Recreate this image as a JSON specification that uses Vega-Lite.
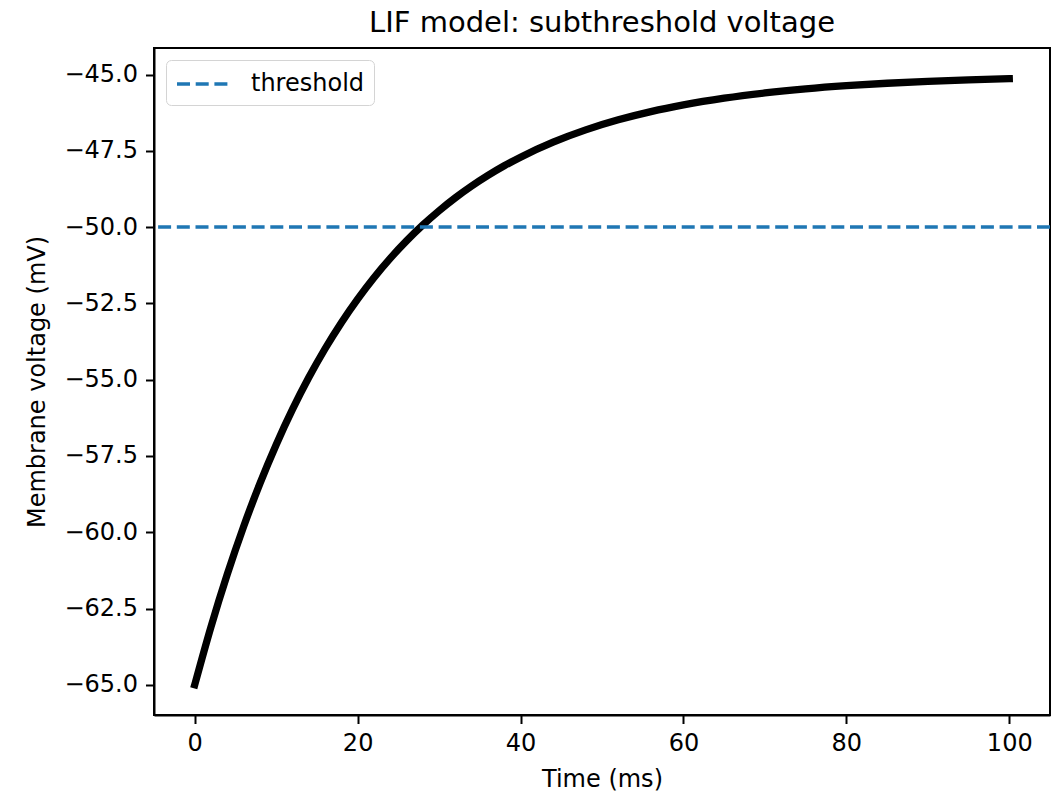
{
  "$schema": "https://vega.github.io/schema/vega-lite/v6.json",
  "width": 896,
  "height": 667,
  "autosize": {"type": "none"},
  "padding": {"left": 154, "top": 48, "right": 8, "bottom": 78},
  "background": "white",
  "title": {"text": "LIF model: subthreshold voltage", "fontSize": 29, "font": "DejaVu Sans", "fontWeight": "normal", "color": "black", "anchor": "middle", "frame": "group", "offset": 10},
  "config": {
    "font": "DejaVu Sans",
    "view": {"stroke": "black", "strokeWidth": 2},
    "axis": {"grid": false, "domainColor": "black", "domainWidth": 2, "tickColor": "black", "tickWidth": 2, "tickSize": 8.5, "labelPadding": 8, "labelFontSize": 24, "titleFontSize": 24, "labelColor": "black", "titleColor": "black", "labelFont": "DejaVu Sans", "titleFont": "DejaVu Sans", "titleFontWeight": "normal"}
  },
  "layer": [
    {
      "data": {"values": [
        {"t": 0, "v": -65.0}, {"t": 2, "v": -63.097}, {"t": 4, "v": -61.375}, {"t": 6, "v": -59.816},
        {"t": 8, "v": -58.406}, {"t": 10, "v": -57.131}, {"t": 12, "v": -55.976}, {"t": 14, "v": -54.932},
        {"t": 16, "v": -53.987}, {"t": 18, "v": -53.131}, {"t": 20, "v": -52.358}, {"t": 22, "v": -51.657},
        {"t": 24, "v": -51.024}, {"t": 26, "v": -50.451}, {"t": 28, "v": -49.932}, {"t": 30, "v": -49.463},
        {"t": 32, "v": -49.038}, {"t": 34, "v": -48.654}, {"t": 36, "v": -48.306}, {"t": 38, "v": -47.991},
        {"t": 40, "v": -47.707}, {"t": 44, "v": -47.216}, {"t": 48, "v": -46.814}, {"t": 52, "v": -46.485},
        {"t": 56, "v": -46.216}, {"t": 60, "v": -45.996}, {"t": 65, "v": -45.775}, {"t": 70, "v": -45.604},
        {"t": 75, "v": -45.470}, {"t": 80, "v": -45.366}, {"t": 85, "v": -45.285}, {"t": 90, "v": -45.222},
        {"t": 95, "v": -45.173}, {"t": 100, "v": -45.135}
      ]},
      "mark": {"type": "line", "stroke": "black", "strokeWidth": 7.3, "strokeCap": "square", "interpolate": "monotone"},
      "encoding": {
        "x": {"field": "t", "type": "quantitative", "title": "Time (ms)", "scale": {"domain": [-5, 105], "nice": false, "zero": false}, "axis": {"values": [0, 20, 40, 60, 80, 100], "titlePadding": 12}},
        "y": {"field": "v", "type": "quantitative", "title": "Membrane voltage (mV)", "scale": {"domain": [-65.99, -44.13], "nice": false, "zero": false}, "axis": {"values": [-65, -62.5, -60, -57.5, -55, -52.5, -50, -47.5, -45], "labelExpr": "replace(format(datum.value, '.1f'), '-', '−')", "titlePadding": 14}}
      }
    },
    {
      "data": {"values": [{"v": -50, "label": "threshold"}]},
      "mark": {"type": "rule", "strokeWidth": 3.5, "strokeDash": [13, 5.7]},
      "encoding": {
        "y": {"field": "v", "type": "quantitative"},
        "color": {"field": "label", "type": "nominal", "scale": {"range": ["#1f77b4"]}, "legend": {"title": null, "orient": "top-left", "offset": 12, "padding": 9, "symbolType": "M-2,0H2", "symbolSize": 676, "symbolOffset": 13, "symbolStrokeWidth": 3.5, "symbolDash": [13, 5.7], "labelFontSize": 24, "labelFont": "DejaVu Sans", "labelColor": "black", "labelOffset": 33, "strokeColor": "#d4d4d4", "fillColor": "rgba(255,255,255,0.8)", "cornerRadius": 5}}
      }
    }
  ]
}
